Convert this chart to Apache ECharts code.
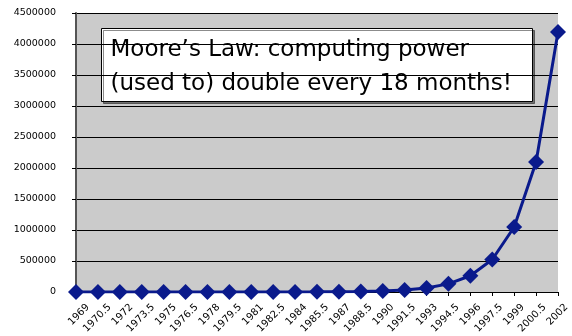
<!DOCTYPE html>
<html>
<head>
<meta charset="utf-8">
<script src="https://cdn.jsdelivr.net/npm/echarts@6/dist/echarts.min.js"></script>
<style>
  html, body { margin: 0; padding: 0; background: #fff; }
  #chart { width: 572px; height: 336px; }
</style>
</head>
<body>
<div id="chart"></div>
<script>
// years, every 18 months
const years = ['1969', '1970.5', '1972', '1973.5', '1975', '1976.5', '1978', '1979.5',
  '1981', '1982.5', '1984', '1985.5', '1987', '1988.5', '1990', '1991.5', '1993',
  '1994.5', '1996', '1997.5', '1999', '2000.5', '2002']
// computing power (relative)
const power = [1, 2, 4, 8, 16, 32, 64, 128, 256, 512, 1024, 2048, 4096, 8192, 16384,
  32768, 65536, 131072, 262144, 524288, 1048576, 2097152, 4194304]
const noteLines = ['Moore\u2019s Law: computing power', '(used to) double every 18 months!']

const font = 'DejaVu Sans'
const chart = echarts.init(document.getElementById('chart'))

chart.setOption({
  animation: false,
  grid: [{
    left: 76,
    right: 14,
    top: 13,
    bottom: 44,
    show: true,
    backgroundColor: '#cbcbcb',
    borderWidth: 0
  }, {
    // same width, shifted right: only carries the slanted year labels
    left: 88,
    right: 2,
    top: 13,
    bottom: 44
  }],
  xAxis: [{
    type: 'category',
    data: years,
    boundaryGap: false,
    axisLine: { lineStyle: { color: '#000', width: 1 } },
    axisTick: { show: true, interval: 0, length: 4, lineStyle: { color: '#000' } },
    axisLabel: { show: false, interval: 0 }
  }, {
    type: 'category',
    gridIndex: 1,
    data: years,
    boundaryGap: false,
    axisLine: { show: false },
    axisTick: { show: false },
    axisLabel: {
      interval: 0,
      rotate: 45,
      margin: 14,
      color: '#000',
      fontFamily: font,
      fontSize: 10
    }
  }],
  yAxis: [{
    type: 'value',
    min: 0,
    max: 4500000,
    interval: 500000,
    axisLine: { show: true, lineStyle: { color: '#555', width: 2 } },
    axisTick: { show: true, length: 4, lineStyle: { color: '#000' } },
    axisLabel: {
      margin: 20,
      color: '#000',
      fontFamily: font,
      fontSize: 9.5,
      formatter: v => String(v)
    },
    splitLine: { lineStyle: { color: '#000', width: 1 } }
  }, {
    type: 'value',
    gridIndex: 1,
    show: false
  }],
  series: [{
    type: 'line',
    data: power,
    symbol: 'diamond',
    symbolSize: 16,
    showSymbol: true,
    showAllSymbol: true,
    itemStyle: { color: '#0a1a8c' },
    lineStyle: { color: '#0a1a8c', width: 3 },
    z: 5
  }],
  graphic: [{
    type: 'group',
    left: 101,
    top: 28,
    z: 10,
    children: [{
      type: 'rect',
      shape: { x: 0, y: 0, width: 431, height: 73 },
      style: {
        fill: '#fff',
        stroke: '#000',
        lineWidth: 1,
        shadowColor: 'rgba(0,0,0,0.45)',
        shadowOffsetX: 2,
        shadowOffsetY: 2
      }
    }, {
      type: 'text',
      x: 9,
      y: 5,
      style: {
        text: noteLines.join('\n'),
        fontFamily: font,
        fontSize: 23,
        fill: '#000',
        lineHeight: 34
      }
    }]
  }]
})
</script>
</body>
</html>
